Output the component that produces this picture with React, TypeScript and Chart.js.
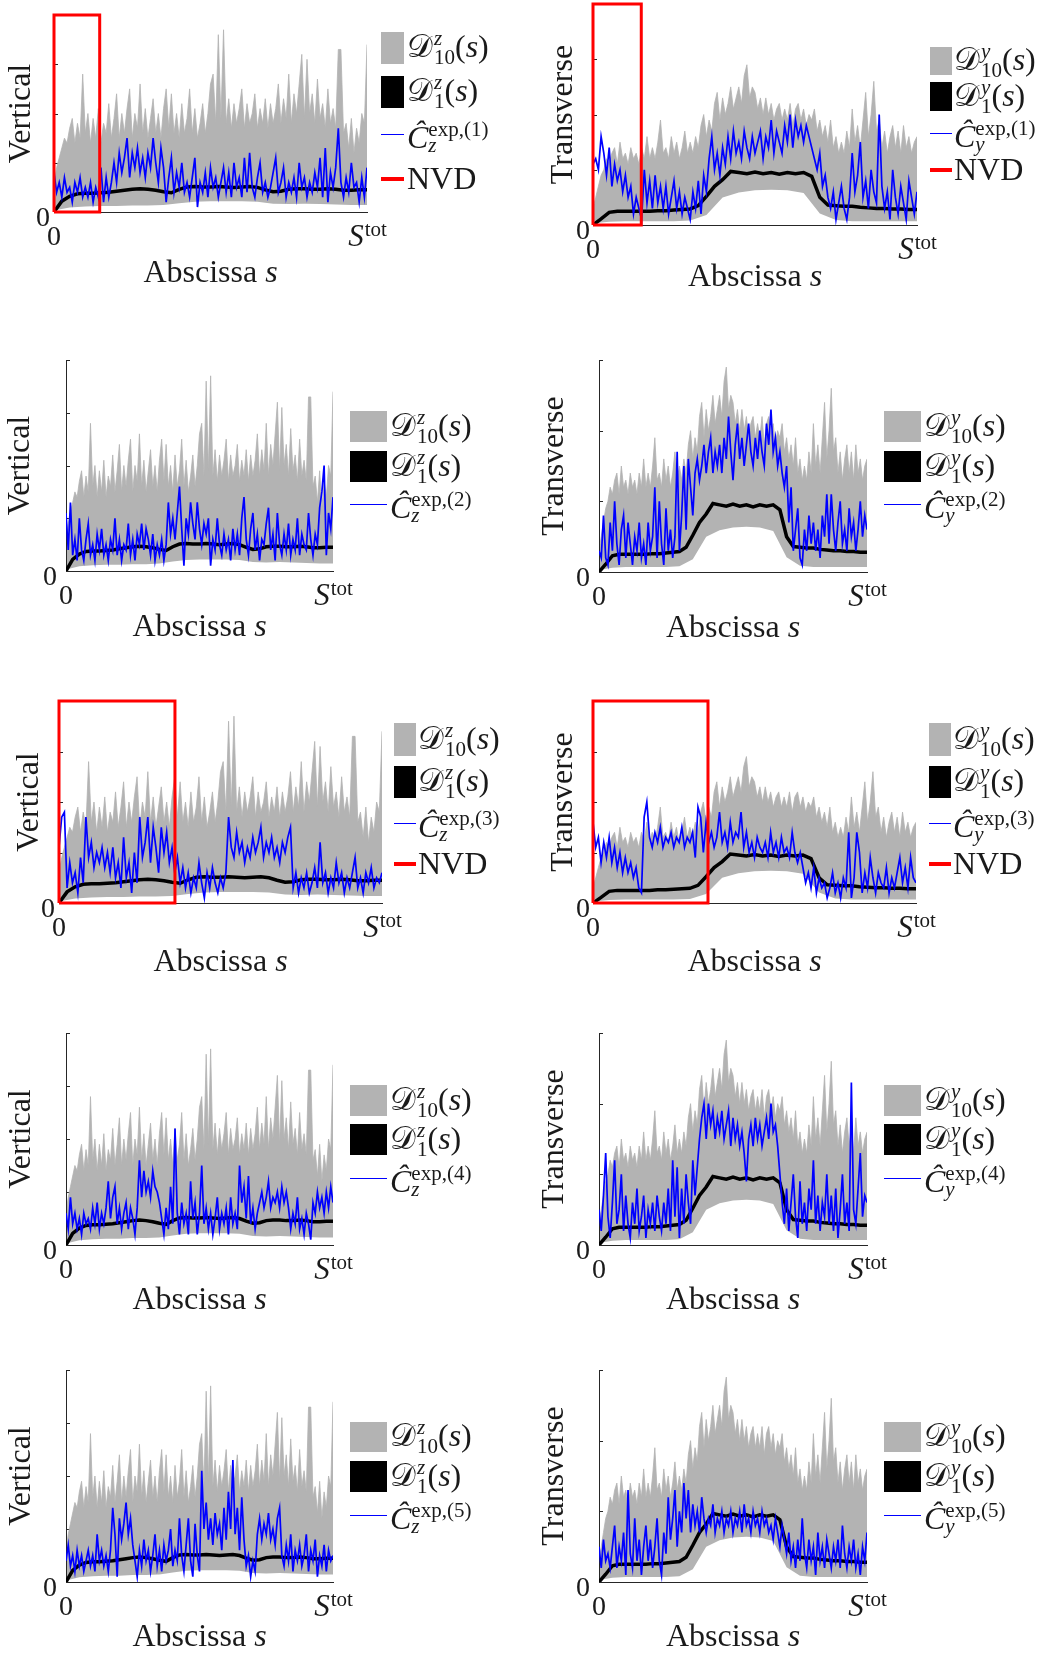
import React, { useEffect, useRef } from 'react';
import { Chart, registerables } from 'chart.js';

Chart.register(...registerables);

const FONT = '"Liberation Serif", "Times New Roman", serif';
const TXT = '#1a1a1a';
const AXIS = '#262626';
const GRAY = '#b3b3b3';

// ---- shared envelopes (values in tenths of a y unit) ----
const grayZUpper = [
  6, 9, 11, 13, 15, 14, 17, 19, 14, 18, 15, 28, 16, 20, 14, 19, 15, 21, 14, 18,
  16, 22, 15, 19, 24, 15, 20, 16, 21, 25, 15, 20, 17, 26, 16, 21, 15, 19, 23, 16,
  20, 15, 21, 25, 17, 24, 16, 20, 15, 22, 16, 19, 25, 16, 21, 15, 18, 22, 16, 20,
  26, 28, 18, 36, 19, 37, 18, 23, 17, 22, 18, 21, 25, 17, 22, 18, 20, 24, 17, 21,
  18, 23, 17, 22, 18, 21, 26, 18, 23, 19, 28, 18, 24, 20, 26, 32, 19, 31, 20, 24,
  18, 27, 19, 22, 17, 25, 18, 21, 17, 33, 33, 16, 18, 13, 19, 12, 17, 14, 20, 18,
  34,
];
const grayZLower = [0.3, 0.9, 1.1, 1.2, 1.2, 1.3, 1.3, 1.4, 1.8, 2.1, 2.2, 2.2, 2.2, 2.1, 1.7, 1.6, 1.7, 1.6, 1.5, 1.4, 1.4];
const meanZ = [
  0, 2.2, 3.2, 3.7, 3.8, 3.8, 3.9, 4.0, 4.2, 4.4, 4.6, 4.7, 4.6, 4.4, 4.1, 3.9, 4.6, 5.1, 5.2, 5.1,
  5.1, 5.2, 5.1, 5.0, 5.1, 5.2, 5.0, 4.5, 4.1, 4.2, 4.6, 4.7, 4.7, 4.6, 4.6, 4.7, 4.6, 4.4, 4.4, 4.5, 4.5,
];
const grayYUpper = [
  3, 5, 7, 9, 10, 12, 11, 13, 14, 11, 15, 12, 13, 11, 14, 12, 13, 11, 14, 12,
  16, 12, 14, 12, 15, 19, 13, 14, 12, 16, 13, 15, 12, 14, 17, 13, 15, 13, 16, 14,
  18, 20, 16, 19, 17, 22, 24, 19, 23, 20, 22, 25, 21, 23, 25, 22, 27, 29, 23, 25,
  24, 21, 23, 20, 23, 20, 22, 19, 21, 22, 19, 21, 19, 22, 18, 21, 22, 19, 21, 18,
  20, 19, 21, 17, 19, 16, 18, 15, 19, 14, 16, 13, 15, 13, 17, 14, 21, 15, 18, 14,
  19, 24, 16, 20, 26, 17, 19, 14, 17, 13, 16, 18, 14, 17, 13, 18, 14, 16, 13, 15,
  16,
];
const grayYLower = [0.3, 0.6, 0.7, 0.7, 0.7, 0.7, 0.8, 1.8, 5.0, 5.9, 6.3, 6.4, 6.3, 5.8, 2.1, 0.9, 0.7, 0.7, 0.7, 0.7, 0.7];
const meanY = [
  0, 1.1, 2.3, 2.5, 2.5, 2.5, 2.5, 2.5, 2.6, 2.6, 2.7, 2.8, 2.9, 3.5, 5.2, 7.0, 8.2, 9.7, 9.5, 9.3,
  9.6, 9.3, 9.5, 9.2, 9.5, 9.3, 9.5, 8.8, 5.0, 3.6, 3.5, 3.4, 3.4, 3.2, 3.1, 3.0, 3.0, 2.9, 2.9, 2.8, 2.8,
];

// ---- experimental curves ----
const blueZ1 = [
  8, 4, 6, 3, 7, 4, 5, 2, 6, 4, 7, 3, 5, 3, 6, 2, 5, 3, 9, 2,
  7, 3, 6, 10, 6, 12, 8, 11, 15, 7, 12, 9, 13, 8, 11, 7, 12, 9, 15, 10,
  6, 13, 9, 2, 7, 11, 4, 8, 5, 10, 4, 6, 3, 7, 11, 1, 6, 4, 8, 3,
  9, 5, 7, 3, 6, 9, 4, 8, 3, 10, 5, 7, 3, 11, 4, 12, 5, 3, 7, 10,
  4, 6, 3, 5, 8, 11, 4, 6, 9, 3, 6, 4, 7, 3, 10, 5, 7, 3, 6, 4,
  8, 5, 11, 3, 13, 2, 8, 5, 9, 17, 6, 3, 7, 4, 10, 5, 6, 2, 7, 3,
  9,
];
const blueY1 = [
  11, 12, 10, 16, 13, 9, 14, 7, 11, 8, 10, 6, 9, 5, 7, 2, 5, 3, 1, 10,
  4, 8, 3, 9, 4, 7, 3, 7, 2, 5, 8, 3, 6, 2, 5, 3, 1, 6, 3, 8,
  2, 9, 6, 12, 16, 10, 13, 9, 14, 11, 16, 12, 17, 13, 15, 12, 17, 14, 12, 16,
  13, 15, 17, 12, 16, 14, 19, 13, 17, 15, 13, 18, 15, 20, 14, 19, 16, 18, 15, 18,
  16, 14, 12, 10, 13, 7, 9, 5, 3, 6, 1, 4, 7, 3, 1, 5, 13, 6, 9, 15,
  5, 8, 3, 10, 6, 4, 20, 7, 3, 6, 1, 10, 5, 2, 7, 4, 1, 8, 5, 2,
  6,
];
const blueZ2 = [
  11, 4, 13, 3, 6, 2, 10, 4, 2, 6, 9, 3, 5, 2, 7, 4, 8, 3, 5, 2,
  6, 4, 10, 3, 6, 2, 5, 4, 9, 3, 6, 2, 7, 5, 9, 4, 8, 6, 3, 7,
  2, 5, 3, 6, 2, 5, 13, 7, 10, 6, 11, 16, 8, 1, 10, 7, 13, 9, 6, 13,
  8, 5, 9, 7, 10, 1, 6, 4, 10, 5, 3, 7, 4, 6, 2, 8, 4, 7, 3, 10,
  14, 6, 3, 8, 11, 4, 7, 2, 6, 5, 9, 12, 4, 7, 2, 11, 5, 3, 7, 4,
  9, 3, 6, 4, 10, 3, 7, 5, 4, 11, 6, 3, 7, 5, 12, 15, 20, 3, 11, 8,
  14,
];
const blueY2 = [
  3, 2, 8, 2, 1, 7, 3, 10, 4, 1, 6, 8, 2, 7, 4, 1, 5, 3, 7, 2,
  4, 1, 7, 3, 5, 12, 2, 10, 4, 1, 9, 3, 6, 2, 5, 17, 3, 8, 15, 6,
  16, 12, 8, 14, 16, 13, 15, 18, 14, 17, 19, 14, 17, 15, 18, 14, 19, 16, 22, 17,
  13, 18, 21, 16, 19, 15, 18, 21, 17, 15, 19, 16, 20, 17, 15, 21, 18, 23, 17, 19,
  15, 17, 14, 12, 15, 7, 12, 3, 6, 9, 2, 1, 6, 3, 8, 4, 7, 3, 6, 2,
  8, 5, 11, 4, 11, 6, 3, 7, 10, 4, 6, 3, 9, 5, 7, 3, 6, 10, 5, 8,
  6,
];
const blueZ3 = [
  11, 17, 18, 3, 8, 4, 6, 2, 9, 4, 17, 9, 12, 7, 10, 8, 11, 7, 10, 6,
  11, 5, 8, 3, 13, 5, 8, 2, 10, 4, 17, 9, 12, 17, 8, 15, 11, 6, 15, 10,
  14, 8, 11, 6, 9, 4, 7, 3, 6, 2, 5, 3, 8, 4, 1, 6, 3, 7, 4, 2,
  5, 3, 6, 17, 11, 9, 14, 10, 12, 8, 11, 9, 13, 10, 12, 15, 9, 12, 10, 13,
  9, 11, 8, 12, 10, 13, 15, 3, 6, 2, 5, 3, 6, 2, 4, 7, 3, 12, 4, 6,
  2, 5, 3, 8, 4, 6, 2, 5, 3, 6, 9, 3, 5, 2, 6, 4, 7, 3, 5, 4,
  6,
];
const blueY3 = [
  16, 11, 13, 8, 12, 9, 13, 8, 11, 7, 10, 6, 9, 6, 8, 5, 7, 3, 2, 17,
  20, 13, 11, 14, 12, 15, 11, 13, 12, 14, 11, 13, 12, 15, 11, 13, 12, 14, 9, 19,
  17, 10, 16, 12, 14, 11, 13, 18, 12, 14, 11, 16, 12, 14, 13, 18, 11, 14, 10, 12,
  9, 13, 11, 10, 12, 9, 14, 10, 12, 9, 13, 10, 11, 9, 14, 10, 8, 10, 7, 4,
  6, 3, 7, 2, 5, 3, 4, 1, 3, 6, 2, 4, 1, 5, 3, 14, 1, 5, 14, 10,
  2, 6, 3, 9, 5, 2, 6, 4, 3, 7, 2, 5, 3, 6, 9, 4, 7, 3, 9, 5,
  4,
];
const blueZ4 = [
  6, 3, 9, 4, 6, 3, 5, 2, 6, 4, 5, 3, 7, 4, 8, 3, 6, 4, 7, 12,
  5, 9, 11, 4, 7, 3, 6, 8, 3, 7, 5, 2, 7, 16, 9, 14, 10, 12, 9, 14,
  11, 10, 8, 5, 2, 7, 3, 11, 4, 22, 6, 2, 8, 4, 6, 2, 12, 5, 8, 2,
  6, 15, 4, 7, 3, 6, 2, 5, 9, 3, 6, 4, 7, 2, 9, 4, 6, 3, 15, 8,
  11, 5, 13, 4, 7, 3, 6, 8, 10, 7, 9, 12, 7, 9, 8, 10, 7, 11, 8, 10,
  7, 3, 6, 4, 9, 3, 5, 2, 6, 4, 1, 8, 6, 10, 7, 9, 6, 10, 7, 11,
  8,
];
const blueY4 = [
  5, 2, 7, 13, 4, 1, 6, 12, 3, 5, 10, 2, 7, 3, 1, 6, 3, 8, 2, 4,
  7, 1, 5, 3, 6, 2, 7, 4, 2, 6, 3, 8, 2, 12, 4, 11, 1, 8, 3, 10,
  6, 3, 12, 7, 11, 15, 18, 20, 15, 20, 17, 19, 15, 18, 16, 19, 15, 17, 19, 14,
  18, 15, 17, 14, 16, 13, 9, 15, 17, 14, 18, 15, 17, 14, 16, 18, 15, 20, 16, 17,
  14, 10, 6, 3, 8, 2, 6, 10, 4, 1, 9, 3, 6, 2, 8, 5, 12, 3, 7, 2,
  6, 4, 10, 3, 7, 2, 8, 1, 5, 10, 3, 6, 2, 23, 5, 3, 8, 13, 4, 7,
  6,
];
const blueZ5 = [
  4, 7, 3, 5, 2, 6, 3, 5, 2, 4, 6, 3, 5, 2, 9, 4, 6, 3, 5, 2,
  6, 14, 9, 1, 12, 8, 11, 15, 9, 12, 7, 4, 1, 6, 3, 8, 4, 6, 2, 5,
  9, 3, 6, 2, 7, 4, 6, 10, 3, 6, 4, 12, 5, 2, 7, 12, 4, 1, 11, 5,
  2, 21, 10, 15, 8, 12, 7, 13, 9, 11, 6, 14, 8, 17, 10, 23, 9, 14, 6, 16,
  8, 3, 5, 1, 4, 2, 9, 12, 8, 11, 9, 13, 8, 10, 7, 12, 14, 5, 3, 7,
  4, 9, 2, 6, 4, 7, 3, 5, 9, 2, 6, 4, 8, 1, 5, 3, 7, 2, 6, 4,
  5,
];
const blueY5 = [
  5, 2, 6, 3, 4, 2, 5, 8, 2, 5, 3, 7, 1, 13, 4, 2, 9, 3, 6, 1,
  5, 8, 3, 6, 2, 5, 9, 3, 1, 7, 4, 12, 6, 9, 13, 5, 10, 7, 14, 9,
  13, 7, 11, 8, 10, 7, 12, 9, 7, 9, 8, 11, 7, 9, 8, 10, 7, 9, 8, 10,
  7, 9, 8, 10, 7, 11, 8, 9, 7, 10, 8, 9, 7, 10, 8, 9, 7, 8, 6, 9,
  7, 5, 8, 6, 4, 7, 3, 5, 2, 6, 3, 9, 4, 2, 6, 3, 5, 1, 7, 3,
  5, 2, 6, 4, 2, 5, 3, 6, 2, 8, 4, 2, 5, 3, 6, 2, 4, 1, 5, 3,
  7,
];

// end abscissa (fraction of S^tot) of the NVD boxes
const nvdEndZ1 = 0.146;
const nvdEndY1 = 0.149;
const nvdEndZ3 = 0.359;
const nvdEndY3 = 0.356;

// ---- layout ----
const YW = 70;
const XH = 80;
const PT = 10;
const PR = 32;

type Leg = { sw: number[]; g: number[]; k: number[]; b: number; r?: number; tx: number };
type P = {
  L: number; T: number; W: number; H: number; ymax: number; kind: 'z' | 'y';
  ytd: number; xtd: number; ylp: number; blue: number[]; nvd?: number; n: number; leg: Leg;
};

const PANELS: P[] = [
  { L: 54, T: 15, W: 313, H: 197, ymax: 40, kind: 'z', ytd: 34, xtd: 70, ylp: 4, blue: blueZ1, nvd: nvdEndZ1, n: 1,
    leg: { sw: [381, 404], g: [32, 64], k: [76, 108], b: 134, r: 179, tx: 407 } },
  { L: 593, T: 4, W: 324, H: 221, ymax: 40, kind: 'y', ytd: 31, xtd: 61, ylp: 3, blue: blueY1, nvd: nvdEndY1, n: 1,
    leg: { sw: [930, 952], g: [47, 75], k: [82, 111], b: 133, r: 170, tx: 954 } },
  { L: 66, T: 360, W: 267, H: 211, ymax: 40, kind: 'z', ytd: 47, xtd: 65, ylp: 9, blue: blueZ2, n: 2,
    leg: { sw: [350, 387], g: [411, 442], k: [451, 482], b: 504, tx: 390 } },
  { L: 599, T: 360, W: 268, H: 212, ymax: 30, kind: 'y', ytd: 46, xtd: 65, ylp: 9, blue: blueY2, n: 2,
    leg: { sw: [884, 921], g: [411, 442], k: [451, 482], b: 504, tx: 924 } },
  { L: 59, T: 701, W: 323, H: 202, ymax: 40, kind: 'z', ytd: 31, xtd: 68, ylp: 4, blue: blueZ3, nvd: nvdEndZ3, n: 3,
    leg: { sw: [394, 416], g: [723, 756], k: [766, 798], b: 823, r: 864, tx: 418 } },
  { L: 593, T: 701, W: 323, H: 202, ymax: 40, kind: 'y', ytd: 31, xtd: 68, ylp: 3, blue: blueY3, nvd: nvdEndY3, n: 3,
    leg: { sw: [929, 951], g: [723, 756], k: [766, 798], b: 823, r: 864, tx: 953 } },
  { L: 66, T: 1033, W: 267, H: 212, ymax: 40, kind: 'z', ytd: 46, xtd: 64, ylp: 9, blue: blueZ4, n: 4,
    leg: { sw: [350, 387], g: [1085, 1116], k: [1124, 1155], b: 1178, tx: 390 } },
  { L: 599, T: 1033, W: 268, H: 212, ymax: 30, kind: 'y', ytd: 46, xtd: 64, ylp: 9, blue: blueY4, n: 4,
    leg: { sw: [884, 921], g: [1085, 1116], k: [1124, 1155], b: 1178, tx: 924 } },
  { L: 66, T: 1370, W: 267, H: 212, ymax: 40, kind: 'z', ytd: 46, xtd: 64, ylp: 9, blue: blueZ5, n: 5,
    leg: { sw: [350, 387], g: [1422, 1452], k: [1461, 1492], b: 1515, tx: 390 } },
  { L: 599, T: 1370, W: 268, H: 212, ymax: 30, kind: 'y', ytd: 46, xtd: 64, ylp: 9, blue: blueY5, n: 5,
    leg: { sw: [884, 921], g: [1422, 1452], k: [1461, 1492], b: 1515, tx: 924 } },
];

const xy = (a: number[]) => a.map((v, i) => ({ x: i / (a.length - 1), y: v }));

const decorPlugin = {
  id: 'decor',
  beforeDatasetsDraw(chart: any, _a: any, opts: any) {
    const { ctx, chartArea } = chart;
    const ys = chart.scales.y;
    const xs = chart.scales.x;
    ctx.save();
    ctx.strokeStyle = AXIS;
    ctx.lineWidth = 1;
    ctx.beginPath();
    for (let v = 10; v <= opts.ymax; v += 10) {
      const y = Math.round(ys.getPixelForValue(v)) + 0.5;
      ctx.moveTo(chartArea.left, y);
      ctx.lineTo(chartArea.left + 4, y);
    }
    const xr = Math.round(xs.getPixelForValue(1)) - 0.5;
    ctx.moveTo(xr, chartArea.bottom);
    ctx.lineTo(xr, chartArea.bottom - 4);
    ctx.stroke();
    ctx.restore();
  },
  afterDraw(chart: any, _a: any, opts: any) {
    const { ctx, chartArea } = chart;
    const { left, right, top, bottom } = chartArea;
    const xs = chart.scales.x;
    ctx.save();
    ctx.fillStyle = TXT;
    ctx.font = `32px ${FONT}`;
    ctx.save();
    ctx.translate(left - opts.ytd, (top + bottom) / 2);
    ctx.rotate(-Math.PI / 2);
    ctx.textAlign = 'center';
    ctx.textBaseline = 'alphabetic';
    ctx.fillText(opts.yTitle, 0, 10);
    ctx.restore();
    ctx.textAlign = 'left';
    ctx.textBaseline = 'alphabetic';
    ctx.font = `32px ${FONT}`;
    const a = 'Abscissa ';
    const w1 = ctx.measureText(a).width;
    ctx.font = `italic 32px ${FONT}`;
    const w2 = ctx.measureText('s').width;
    const x0 = (left + right) / 2 - (w1 + w2) / 2;
    ctx.font = `32px ${FONT}`;
    ctx.fillText(a, x0, bottom + opts.xtd);
    ctx.font = `italic 32px ${FONT}`;
    ctx.fillText('s', x0 + w1, bottom + opts.xtd);
    ctx.font = `italic 31px ${FONT}`;
    const wS = ctx.measureText('S').width;
    ctx.font = `21px ${FONT}`;
    const wT = ctx.measureText('tot').width;
    const xc = xs.getPixelForValue(1);
    const sx = xc - (wS + wT) / 2;
    ctx.font = `italic 31px ${FONT}`;
    ctx.fillText('S', sx, bottom + 34);
    ctx.font = `21px ${FONT}`;
    ctx.fillText('tot', sx + wS + 1, bottom + 24);
    ctx.restore();
  },
};

const zeroPad = (s: any) => {
  s.paddingTop = 0;
  s.paddingBottom = 0;
  s.paddingLeft = 0;
  s.paddingRight = 0;
};

function Panel({ p }: { p: P }) {
  const ref = useRef<HTMLCanvasElement | null>(null);
  const cw = p.W + YW + PR;
  const ch = p.H + PT + XH;
  useEffect(() => {
    if (!ref.current) return;
    const upper = p.kind === 'z' ? grayZUpper : grayYUpper;
    const lower = p.kind === 'z' ? grayZLower : grayYLower;
    const mean = p.kind === 'z' ? meanZ : meanY;
    const fillClip = { left: -1, top: 2, right: 0, bottom: 0 };
    const datasets: any[] = [];
    if (p.nvd !== undefined) {
      datasets.push({
        data: [
          { x: 0, y: 0 }, { x: 0, y: p.ymax }, { x: p.nvd, y: p.ymax }, { x: p.nvd, y: 0 }, { x: 0, y: 0 },
        ],
        borderColor: '#ff0000', borderWidth: 3, pointRadius: 0, fill: false, clip: false, order: 0,
      });
    }
    datasets.push({ data: xy(p.blue), borderColor: '#0000ff', borderWidth: 1.7, pointRadius: 0, fill: false, order: 1 });
    datasets.push({ data: xy(mean), borderColor: '#000000', borderWidth: 3.5, pointRadius: 0, fill: false, order: 2 });
    datasets.push({
      data: xy(lower), borderColor: 'rgba(0,0,0,0)', borderWidth: 0, backgroundColor: '#ffffff',
      fill: 'origin', pointRadius: 0, order: 3, clip: fillClip,
    });
    datasets.push({
      data: xy(upper), borderColor: GRAY, borderWidth: 0.8, backgroundColor: GRAY,
      fill: 'origin', pointRadius: 0, order: 4, clip: fillClip,
    });
    const chart = new Chart(ref.current, {
      type: 'line',
      data: { datasets },
      plugins: [decorPlugin],
      options: {
        responsive: false,
        animation: false,
        devicePixelRatio: 1,
        events: [],
        layout: { padding: { top: PT, right: PR, left: 0, bottom: 0 } },
        elements: { point: { radius: 0 }, line: { tension: 0 } },
        plugins: {
          legend: { display: false },
          tooltip: { enabled: false },
          decor: { ymax: p.ymax, ytd: p.ytd, xtd: p.xtd, yTitle: p.kind === 'z' ? 'Vertical' : 'Transverse' },
        } as any,
        scales: {
          x: {
            type: 'linear', min: 0, max: 1,
            grid: { display: false, drawTicks: false },
            border: { display: true, color: AXIS, width: 1 },
            ticks: { font: { family: FONT, size: 28 }, color: TXT, padding: 9, maxRotation: 0, autoSkip: false },
            afterBuildTicks: (s: any) => { s.ticks = [{ value: 0 }]; },
            afterFit: (s: any) => { s.height = XH; zeroPad(s); },
          },
          y: {
            type: 'linear', min: 0, max: p.ymax,
            grid: { display: false, drawTicks: false },
            border: { display: true, color: AXIS, width: 1 },
            ticks: { font: { family: FONT, size: 28 }, color: TXT, padding: p.ylp, labelOffset: 7 },
            afterBuildTicks: (s: any) => { s.ticks = [{ value: 0 }]; },
            afterFit: (s: any) => { s.width = YW; zeroPad(s); },
          },
        } as any,
      } as any,
    });
    return () => chart.destroy();
  }, []);
  return (
    <canvas
      ref={ref}
      width={cw}
      height={ch}
      style={{ position: 'absolute', left: p.L - YW, top: p.T - PT, width: cw, height: ch }}
    />
  );
}

const textBase: React.CSSProperties = {
  position: 'absolute', fontFamily: FONT, fontSize: 32, lineHeight: '32px', whiteSpace: 'nowrap', color: TXT,
};

function MathD({ left, base, ax, idx }: { left: number; base: number; ax: string; idx: string }) {
  return (
    <div style={{ ...textBase, left, top: base - 27 }}>
      <span>𝒟</span>
      <span style={{ display: 'inline-block', verticalAlign: '-7px', lineHeight: '19px', fontSize: 21, marginLeft: 1 }}>
        <span style={{ display: 'block', fontStyle: 'italic' }}>{ax}</span>
        <span style={{ display: 'block' }}>{idx}</span>
      </span>
      <span>(</span>
      <span style={{ fontStyle: 'italic' }}>s</span>
      <span>)</span>
    </div>
  );
}

function MathC({ left, base, ax, n }: { left: number; base: number; ax: string; n: number }) {
  return (
    <div style={{ ...textBase, left, top: base - 27 }}>
      <span style={{ fontStyle: 'italic' }}>Ĉ</span>
      <span style={{ display: 'inline-block', verticalAlign: '-4px', lineHeight: '16px', fontSize: 21 }}>
        <span style={{ display: 'block' }}>{`exp,(${n})`}</span>
        <span style={{ display: 'block', fontStyle: 'italic' }}>{ax}</span>
      </span>
    </div>
  );
}

function Legend({ p }: { p: P }) {
  const l = p.leg;
  const sw = l.sw[1] - l.sw[0];
  return (
    <>
      <div style={{ position: 'absolute', left: l.sw[0], top: l.g[0], width: sw, height: l.g[1] - l.g[0], background: GRAY }} />
      <MathD left={l.tx} base={(l.g[0] + l.g[1]) / 2 + 8} ax={p.kind} idx="10" />
      <div style={{ position: 'absolute', left: l.sw[0], top: l.k[0], width: sw, height: l.k[1] - l.k[0], background: '#000' }} />
      <MathD left={l.tx} base={(l.k[0] + l.k[1]) / 2 + 8} ax={p.kind} idx="1" />
      <div style={{ position: 'absolute', left: l.sw[0], top: l.b - 0.5, width: sw, height: 1, background: '#0000ff' }} />
      <MathC left={l.tx} base={l.b + 14} ax={p.kind} n={p.n} />
      {l.r !== undefined && (
        <>
          <div style={{ position: 'absolute', left: l.sw[0], top: l.r - 2, width: sw, height: 4, background: '#ff0000' }} />
          <div style={{ ...textBase, left: l.tx, top: l.r + 10 - 27 }}>NVD</div>
        </>
      )}
    </>
  );
}

export default function App() {
  return (
    <div style={{ position: 'absolute', left: 0, top: 0, width: 1059, height: 1655, background: '#fff', overflow: 'hidden' }}>
      {PANELS.map((p, i) => (
        <Panel key={'c' + i} p={p} />
      ))}
      {PANELS.map((p, i) => (
        <Legend key={'l' + i} p={p} />
      ))}
    </div>
  );
}
